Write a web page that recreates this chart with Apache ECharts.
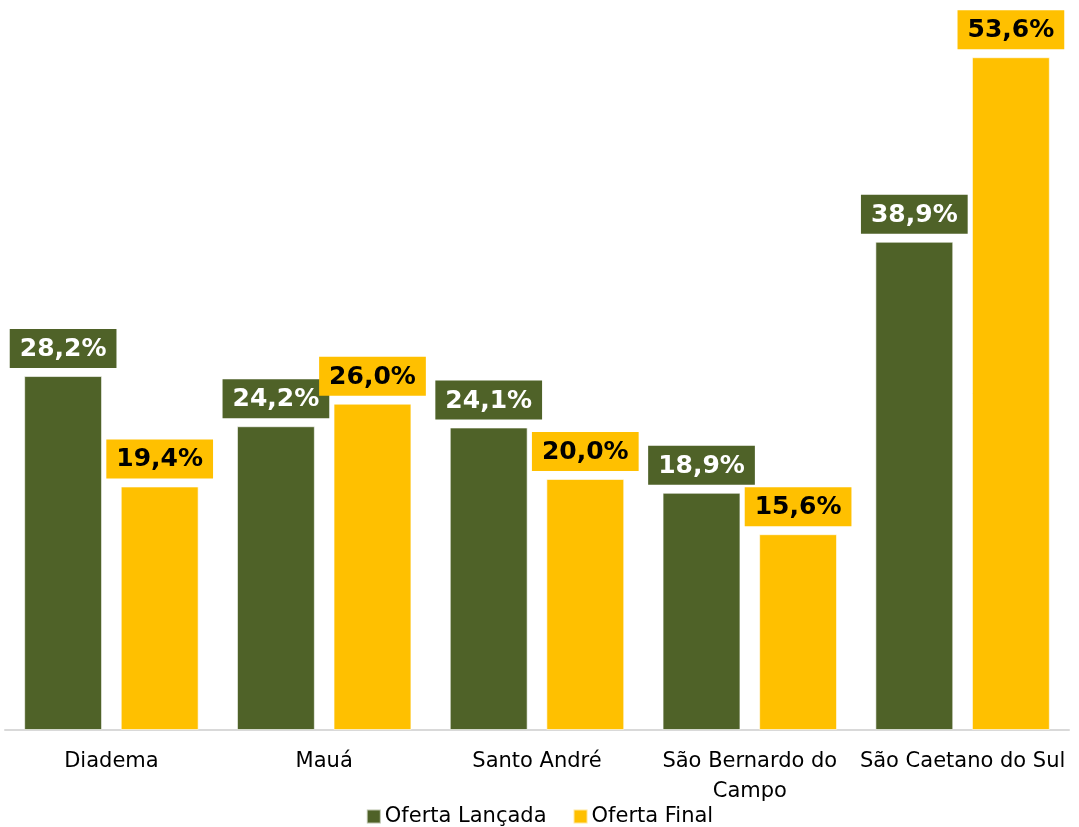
<!DOCTYPE html>
<html>
<head>
<meta charset="utf-8">
<script src="https://cdn.jsdelivr.net/npm/echarts@6/dist/echarts.min.js"></script>
<style>
  html, body { margin: 0; padding: 0; background: #ffffff; }
  #chart { width: 1079px; height: 827px; }
</style>
</head>
<body>
<div id="chart"></div>
<script>
// Municipalities of the ABC region
const categories = ['Diadema', 'Mauá', 'Santo André', 'São Bernardo do\nCampo', 'São Caetano do Sul'];
// Shares (%) per municipality
const ofertaLancada = [28.2, 24.2, 24.1, 18.9, 38.9];
const ofertaFinal = [19.4, 26.0, 20.0, 15.6, 53.6];
const seriesNames = ['Oferta Lançada', 'Oferta Final'];

const GREEN = '#4F6228';
const YELLOW = '#FFC000';
const FONT = 'DejaVu Sans';

const fmt = v => v.toFixed(1).replace('.', ',') + '%';

function valueLabel(bg, fg) {
  return {
    show: true,
    position: 'top',
    distance: 8,
    formatter: p => fmt(p.value),
    backgroundColor: bg,
    color: fg,
    fontFamily: FONT,
    fontWeight: 'bold',
    fontSize: 25,
    lineHeight: 29,
    padding: [6, 10, 4, 10]
  };
}

const chart = echarts.init(document.getElementById('chart'), null, { renderer: 'canvas' });
chart.setOption({
  animation: false,
  backgroundColor: '#ffffff',
  grid: { left: 5, right: 10, top: 2, bottom: 97, containLabel: false },
  legend: {
    top: 801,
    left: 'center',
    itemWidth: 14,
    itemHeight: 14,
    itemGap: 26,
    icon: 'rect',
    textStyle: { fontFamily: FONT, fontSize: 21, color: '#000000', padding: [0, 0, 0, -1] },
    data: seriesNames
  },
  xAxis: {
    type: 'category',
    data: categories,
    axisLine: { show: true, lineStyle: { color: '#D9D9D9', width: 2 } },
    axisTick: { show: false },
    axisLabel: {
      interval: 0,
      margin: 17,
      fontFamily: FONT,
      fontSize: 21,
      lineHeight: 30,
      color: '#000000'
    }
  },
  yAxis: {
    type: 'value',
    min: 0,
    max: 58,
    show: false,
    splitLine: { show: false }
  },
  series: [
    {
      name: seriesNames[0],
      type: 'bar',
      data: ofertaLancada,
      barWidth: '36.6%',
      barGap: '24%',
      itemStyle: { color: GREEN, borderColor: 'rgba(255,255,255,0.6)', borderWidth: 1 },
      label: valueLabel(GREEN, '#ffffff')
    },
    {
      name: seriesNames[1],
      type: 'bar',
      data: ofertaFinal,
      barWidth: '36.6%',
      itemStyle: { color: YELLOW, borderColor: 'rgba(255,255,255,0.6)', borderWidth: 1 },
      label: valueLabel(YELLOW, '#000000')
    }
  ]
});
</script>
</body>
</html>
